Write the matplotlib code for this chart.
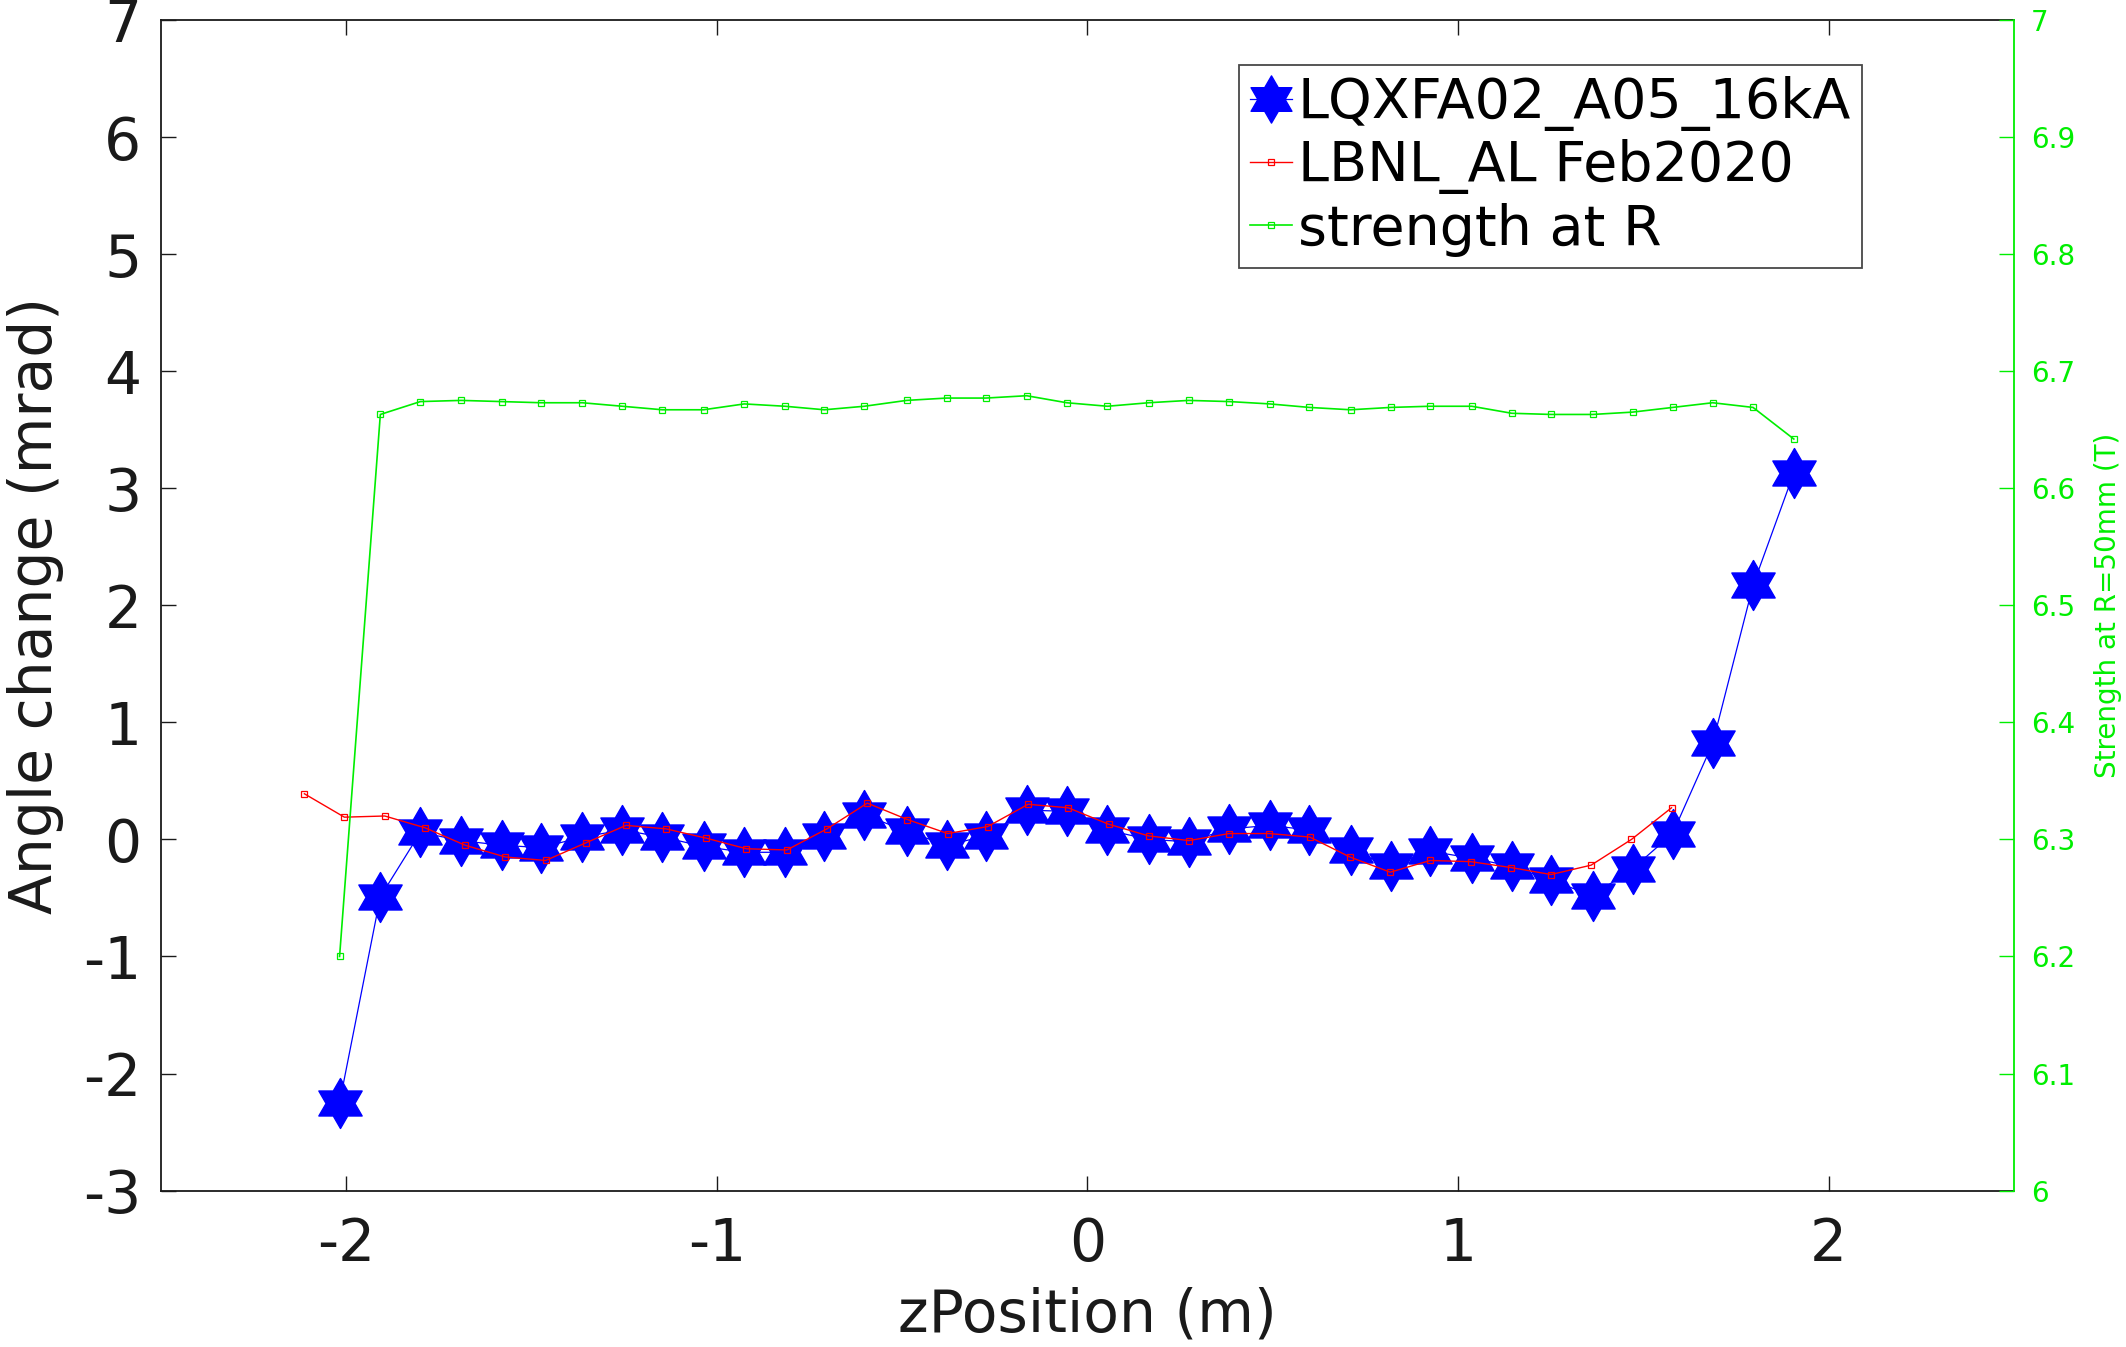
import numpy as np
import matplotlib
matplotlib.use("Agg")
import matplotlib.pyplot as plt
from matplotlib.path import Path

plt.rcParams["font.family"] = ["DejaVu Sans"]
plt.rcParams["axes.unicode_minus"] = False

# measured angle change (mrad) vs z position (m)
z_meas = [-2.018, -1.908, -1.800, -1.690, -1.581, -1.474, -1.363, -1.255, -1.147,
          -1.036, -0.926, -0.816, -0.710, -0.602, -0.488, -0.380, -0.274, -0.164,
          -0.056, 0.054, 0.165, 0.273, 0.383, 0.492, 0.599, 0.710, 0.818, 0.923,
          1.037, 1.145, 1.252, 1.363, 1.471, 1.579, 1.687, 1.796, 1.906]
angle_meas = [-2.25, -0.49, 0.06, -0.01, -0.05, -0.07, 0.02, 0.08, 0.02,
              -0.06, -0.11, -0.11, 0.03, 0.21, 0.07, -0.05, 0.03, 0.25,
              0.24, 0.08, 0.00, -0.02, 0.09, 0.12, 0.08, -0.09, -0.23, -0.10,
              -0.16, -0.23, -0.35, -0.48, -0.25, 0.05, 0.82, 2.17, 3.13]

# LBNL reference
z_lbnl = [-2.113, -2.005, -1.896, -1.788, -1.679, -1.571, -1.462, -1.354, -1.245,
          -1.137, -1.028, -0.920, -0.811, -0.703, -0.594, -0.486, -0.377, -0.269,
          -0.160, -0.052, 0.057, 0.165, 0.274, 0.382, 0.491, 0.600, 0.708, 0.817,
          0.925, 1.034, 1.142, 1.251, 1.359, 1.468, 1.576]
angle_lbnl = [0.39, 0.19, 0.20, 0.10, -0.05, -0.15, -0.18, -0.03, 0.12,
              0.09, 0.01, -0.08, -0.09, 0.09, 0.31, 0.17, 0.05, 0.11,
              0.30, 0.27, 0.13, 0.03, -0.01, 0.05, 0.05, 0.02, -0.15, -0.28,
              -0.18, -0.19, -0.24, -0.30, -0.22, 0.00, 0.27]

# field strength at R=50mm (T)
strength = [6.200, 6.663, 6.674, 6.675, 6.674, 6.673, 6.673, 6.670, 6.667,
            6.667, 6.672, 6.670, 6.667, 6.670, 6.675, 6.677, 6.677, 6.679,
            6.673, 6.670, 6.673, 6.675, 6.674, 6.672, 6.669, 6.667, 6.669, 6.670,
            6.670, 6.664, 6.663, 6.663, 6.665, 6.669, 6.673, 6.669, 6.642]

hexagram = Path.unit_regular_star(6, 1 / np.sqrt(3))
green = "#00ee00"
dark = "#1a1a1a"

fig = plt.figure(figsize=(21.26, 13.47), dpi=100)
ax = fig.add_axes([0.0757, 0.1161, 0.8716, 0.8691])
ax2 = ax.twinx()

l1, = ax.plot(z_meas, angle_meas, color="blue", linewidth=0.9, marker=hexagram,
              markersize=36, markerfacecolor="blue", markeredgecolor="blue",
              label="LQXFA02_A05_16kA", zorder=2)
l2, = ax.plot(z_lbnl, angle_lbnl, color="red", linewidth=1.0, marker="s",
              markersize=5, markerfacecolor="none", markeredgecolor="red",
              markeredgewidth=0.9, label="LBNL_AL Feb2020", zorder=3)
l3, = ax2.plot(z_meas, strength, color=green, linewidth=1.2, marker="s",
               markersize=5, markerfacecolor="none", markeredgecolor=green,
               markeredgewidth=0.9, label="strength at R")

ax.set_xlim(-2.5, 2.5)
ax.set_ylim(-3, 7)
ax2.set_ylim(6, 7)

ax.set_xticks([-2, -1, 0, 1, 2])
ax.set_xticklabels(["-2", "-1", "0", "1", "2"])
ax.set_yticks(range(-3, 8))
ax.set_yticklabels([str(v) for v in range(-3, 8)])
ax.tick_params(axis="both", direction="in", length=11, width=1, labelsize=42,
               colors=dark, labelcolor=dark, pad=14)
ax.tick_params(axis="x", top=True, pad=18)
ax.tick_params(axis="y", right=False)

st_ticks = [6 + 0.1 * k for k in range(11)]
ax2.set_yticks(st_ticks)
ax2.set_yticklabels(["6", "6.1", "6.2", "6.3", "6.4", "6.5", "6.6", "6.7",
                     "6.8", "6.9", "7"])
ax2.tick_params(axis="y", direction="in", length=11, width=1, labelsize=20,
                colors=green, pad=12)

for side in ["left", "top", "bottom"]:
    ax.spines[side].set_color(dark)
    ax.spines[side].set_linewidth(1.3)
ax2.spines["right"].set_color(green)
ax2.spines["right"].set_linewidth(1.3)
for side in ["left", "top", "bottom"]:
    ax2.spines[side].set_visible(False)
ax.spines["right"].set_visible(False)

ax.set_xlabel("zPosition (m)", fontsize=42, color=dark, labelpad=10)
ax.set_ylabel("Angle change (mrad)", fontsize=42, color=dark, labelpad=14)
ax2.set_ylabel("Strength at R=50mm (T)", fontsize=20, color=green, labelpad=14)

leg = ax2.legend(handles=[l1, l2, l3], loc="upper right",
                 bbox_to_anchor=(0.918, 0.9616), fontsize=40, frameon=True,
                 fancybox=False, edgecolor=dark, handlelength=0.75,
                 handletextpad=0.1, borderpad=0.2, labelspacing=0.15,
                 borderaxespad=0)
leg.get_frame().set_linewidth(1.3)
leg.legend_handles[0].set_markersize(34)

fig.savefig("out.png", dpi=100)
